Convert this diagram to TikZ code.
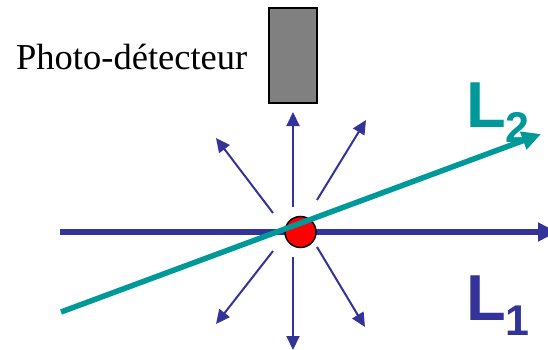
\documentclass[tikz,border=0pt]{standalone}
\usepackage{fontspec}
\setmainfont{Liberation Serif}
\newfontfamily\labfont{Liberation Sans}
\usetikzlibrary{arrows.meta}
\definecolor{beamblue}{HTML}{333399}
\definecolor{beamteal}{HTML}{009999}
\tikzset{
  det/.style   = {draw, line width=2pt, fill=black!50, minimum width=48pt,
                  minimum height=95pt, inner sep=0pt},
  atom/.style  = {draw, circle, line width=1.5pt, fill=red, minimum size=31pt,
                  inner sep=0pt},
  beam/.style  = {line width=5.5pt, -{Triangle[length=19pt, width=18pt]}},
  emit/.style  = {beamblue, line width=2pt, -{Triangle[length=14pt, width=13pt]}},
  blbl/.style  = {anchor=base west, inner sep=0pt, font=\labfont\bfseries\fontsize{65}{65}\selectfont},
}
\newcommand{\lsub}[1]{\lower15pt\hbox{\fontsize{43}{43}\selectfont #1}}

\begin{document}
\begin{tikzpicture}[x=1pt, y=-1pt]
  \useasboundingbox (0,0) rectangle (548,350);
  % detector
  \node[det] (pd) at (292.5,55.5) {};
  \node[anchor=base west, inner sep=0pt, font=\fontsize{36.5}{36.5}\selectfont]
    (pdlbl) at (16,70) {Photo-détecteur};
  % beam L1
  \coordinate (l1a) at (60,232);
  \coordinate (l1b) at (557,232);
  \draw[beam, beamblue] (l1a) -- (l1b);
  % emission
  \coordinate (s1) at (293,207);  \coordinate (e1) at (293,112);
  \coordinate (s2) at (293,257);  \coordinate (e2) at (293,350);
  \coordinate (s3) at (273,213);  \coordinate (e3) at (216,138);
  \coordinate (s4) at (317,200);  \coordinate (e4) at (366,120);
  \coordinate (s5) at (273,251);  \coordinate (e5) at (216,324);
  \coordinate (s6) at (317,247);  \coordinate (e6) at (365,327);
  \foreach \i in {1,...,6}
    \draw[emit] (s\i) -- (e\i);
  \node[atom] (at) at (300.5,232) {};
  % beam L2
  \coordinate (l2a) at (61,312);
  \coordinate (l2b) at (541,134);
  \draw[beam, beamteal] (l2a) -- (l2b);
  % labels
  \node[blbl, text=beamteal] (lb2) at (466,127) {L\lsub{2}};
  \node[blbl, text=beamblue] (lb1) at (466,320) {L\lsub{1}};
\end{tikzpicture}
\end{document}
